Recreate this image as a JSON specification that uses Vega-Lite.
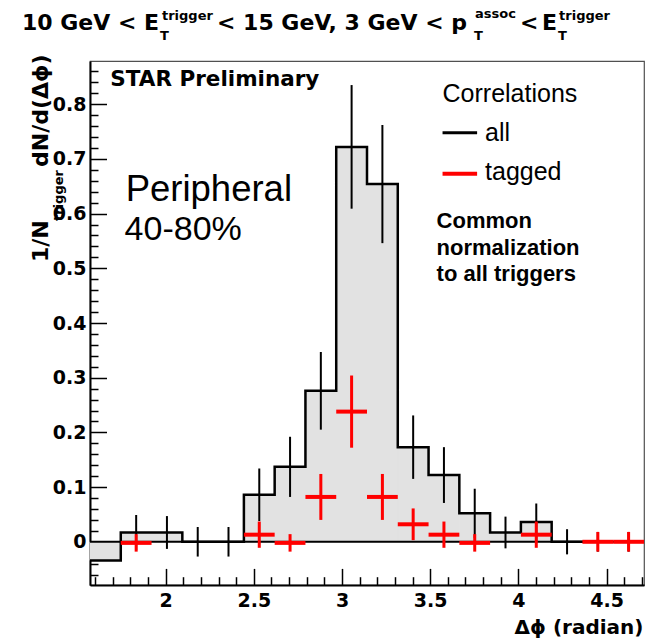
{
  "$schema": "https://vega.github.io/schema/vega-lite/v6.json",
  "width": 554,
  "height": 524,
  "autosize": {"type": "none"},
  "padding": {"left": 90, "top": 61, "right": 10, "bottom": 53},
  "background": "white",
  "config": {"view": {"stroke": "#505050", "strokeWidth": 1.2}, "axis": {"grid": false}},
  "datasets": {
    "bins": [
      {"lo": 1.5708, "hi": 1.7453, "c": 1.6581, "all": -0.034, "allErr": null, "tag": null, "tagErr": null},
      {"lo": 1.7453, "hi": 1.9199, "c": 1.8326, "all": 0.017, "allErr": 0.032, "tag": -0.002, "tagErr": 0.016},
      {"lo": 1.9199, "hi": 2.0944, "c": 2.0071, "all": 0.017, "allErr": 0.030, "tag": null, "tagErr": null},
      {"lo": 2.0944, "hi": 2.2689, "c": 2.1817, "all": 0.0, "allErr": 0.027, "tag": null, "tagErr": null},
      {"lo": 2.2689, "hi": 2.4435, "c": 2.3562, "all": 0.0, "allErr": 0.027, "tag": null, "tagErr": null},
      {"lo": 2.4435, "hi": 2.6180, "c": 2.5307, "all": 0.086, "allErr": 0.048, "tag": 0.013, "tagErr": 0.024},
      {"lo": 2.6180, "hi": 2.7925, "c": 2.7053, "all": 0.137, "allErr": 0.055, "tag": -0.002, "tagErr": 0.016},
      {"lo": 2.7925, "hi": 2.9671, "c": 2.8798, "all": 0.276, "allErr": 0.071, "tag": 0.082, "tagErr": 0.042},
      {"lo": 2.9671, "hi": 3.1416, "c": 3.0543, "all": 0.722, "allErr": 0.113, "tag": 0.238, "tagErr": 0.066},
      {"lo": 3.1416, "hi": 3.3161, "c": 3.2289, "all": 0.654, "allErr": 0.108, "tag": 0.082, "tagErr": 0.042},
      {"lo": 3.3161, "hi": 3.4907, "c": 3.4034, "all": 0.173, "allErr": 0.058, "tag": 0.032, "tagErr": 0.029},
      {"lo": 3.4907, "hi": 3.6652, "c": 3.5779, "all": 0.122, "allErr": 0.051, "tag": 0.013, "tagErr": 0.024},
      {"lo": 3.6652, "hi": 3.8397, "c": 3.7525, "all": 0.052, "allErr": 0.045, "tag": -0.002, "tagErr": 0.016},
      {"lo": 3.8397, "hi": 4.0143, "c": 3.9270, "all": 0.017, "allErr": 0.029, "tag": null, "tagErr": null},
      {"lo": 4.0143, "hi": 4.1888, "c": 4.1015, "all": 0.036, "allErr": 0.034, "tag": 0.013, "tagErr": 0.024},
      {"lo": 4.1888, "hi": 4.3633, "c": 4.2761, "all": 0.0, "allErr": 0.023, "tag": null, "tagErr": null},
      {"lo": 4.3633, "hi": 4.5379, "c": 4.4506, "all": 0.0, "allErr": 0.018, "tag": 0.0, "tagErr": 0.018},
      {"lo": 4.5379, "hi": 4.7124, "c": 4.6251, "all": 0.0, "allErr": 0.018, "tag": 0.0, "tagErr": 0.018}
    ]
  },
  "resolve": {"axis": {"x": "independent", "y": "independent"}},
  "layer": [
    {
      "data": {"name": "bins"},
      "mark": {"type": "rect", "fill": "#e2e2e2", "stroke": "#e2e2e2", "strokeWidth": 1},
      "encoding": {
        "x": {"field": "lo", "type": "quantitative",
          "scale": {"domain": [1.5708, 4.7124], "nice": false, "zero": false},
          "axis": {"orient": "bottom", "values": [2, 2.5, 3, 3.5, 4, 4.5], "format": "~g",
            "tickSize": -16.6, "tickWidth": 1.5, "tickColor": "black",
            "domain": true, "domainColor": "black", "domainWidth": 2,
            "labelFont": "DejaVu Sans", "labelFontWeight": "bold", "labelFontSize": 19, "labelColor": "black",
            "labelPadding": 23.4, "labelOverlap": false, "labelFlush": false,
            "title": "Δϕ (radian)", "titleFont": "DejaVu Sans", "titleFontWeight": "bold", "titleFontSize": 20,
            "titleColor": "black", "titleAnchor": "end", "titleAlign": "right", "titleBaseline": "alphabetic",
            "titleX": 553, "titleY": 48}},
        "x2": {"field": "hi"},
        "y": {"field": "all", "type": "quantitative",
          "scale": {"domain": [-0.079, 0.879], "nice": false, "zero": false},
          "axis": {"orient": "left", "values": [0, 0.1, 0.2, 0.3, 0.4, 0.5, 0.6, 0.7, 0.8], "format": "~g",
            "tickSize": -16.5, "tickWidth": 1.5, "tickColor": "black",
            "domain": true, "domainColor": "black", "domainWidth": 2,
            "labelFont": "DejaVu Sans", "labelFontWeight": "bold", "labelFontSize": 19, "labelColor": "black",
            "labelPadding": 20.5, "labelOverlap": false, "labelFlush": false, "title": null}},
        "y2": {"datum": 0}
      }
    },
    {
      "data": {"name": "bins"},
      "mark": {"type": "line", "interpolate": "step-after", "color": "black", "strokeWidth": 2.5},
      "encoding": {
        "x": {"field": "lo", "type": "quantitative",
          "axis": {"orient": "bottom", "values": [1.6, 1.7, 1.8, 1.9, 2.1, 2.2, 2.3, 2.4, 2.6, 2.7, 2.8, 2.9, 3.1, 3.2, 3.3, 3.4, 3.6, 3.7, 3.8, 3.9, 4.1, 4.2, 4.3, 4.4, 4.6, 4.7],
            "tickSize": -8.3, "tickWidth": 1.5, "tickColor": "black", "domain": false, "labels": false, "title": null}},
        "y": {"field": "all", "type": "quantitative",
          "axis": {"orient": "left", "values": [-0.06, -0.04, -0.02, 0.02, 0.04, 0.06, 0.08, 0.12, 0.14, 0.16, 0.18, 0.22, 0.24, 0.26, 0.28, 0.32, 0.34, 0.36, 0.38, 0.42, 0.44, 0.46, 0.48, 0.52, 0.54, 0.56, 0.58, 0.62, 0.64, 0.66, 0.68, 0.72, 0.74, 0.76, 0.78, 0.82, 0.84, 0.86],
            "tickSize": -8, "tickWidth": 1.5, "tickColor": "black", "domain": false, "labels": false, "title": null}}
      }
    },
    {
      "data": {"values": [{}]},
      "mark": {"type": "rule", "color": "black", "strokeWidth": 2},
      "encoding": {"y": {"datum": 0, "type": "quantitative", "axis": null}}
    },
    {
      "data": {"name": "bins"},
      "transform": [{"filter": "isValid(datum.allErr)"}],
      "mark": {"type": "errorbar", "color": "black", "thickness": 2},
      "encoding": {
        "x": {"field": "c", "type": "quantitative", "axis": null},
        "y": {"field": "all", "type": "quantitative", "axis": null},
        "yError": {"field": "allErr"}
      }
    },
    {
      "data": {"name": "bins"},
      "transform": [{"filter": "isValid(datum.tag)"}],
      "mark": {"type": "rule", "color": "#ff0000", "strokeWidth": 4},
      "encoding": {
        "x": {"field": "lo", "type": "quantitative", "axis": null},
        "x2": {"field": "hi"},
        "y": {"field": "tag", "type": "quantitative", "axis": null}
      }
    },
    {
      "data": {"name": "bins"},
      "transform": [{"filter": "isValid(datum.tag)"}],
      "mark": {"type": "errorbar", "color": "#ff0000", "thickness": 3},
      "encoding": {
        "x": {"field": "c", "type": "quantitative", "axis": null},
        "y": {"field": "tag", "type": "quantitative", "axis": null},
        "yError": {"field": "tagErr"}
      }
    },
    {
      "data": {"values": [{}]},
      "mark": {"type": "rule", "color": "black", "strokeWidth": 3},
      "encoding": {"x": {"datum": 3.570, "type": "quantitative", "axis": null}, "x2": {"datum": 3.766}, "y": {"datum": 0.748, "type": "quantitative", "axis": null}}
    },
    {
      "data": {"values": [{}]},
      "mark": {"type": "rule", "color": "#ff0000", "strokeWidth": 4},
      "encoding": {"x": {"datum": 3.570, "type": "quantitative", "axis": null}, "x2": {"datum": 3.766}, "y": {"datum": 0.673, "type": "quantitative", "axis": null}}
    },
    {
      "data": {"values": [{}]},
      "mark": {"type": "text", "text": "10 GeV < E", "font": "DejaVu Sans", "fontWeight": "bold", "fontSize": 22, "align": "left", "baseline": "alphabetic", "color": "black"},
      "encoding": {"x": {"datum": 1.185, "type": "quantitative", "axis": null}, "y": {"datum": 0.9357, "type": "quantitative", "axis": null}}
    },
    {
      "data": {"values": [{}]},
      "mark": {"type": "text", "text": "trigger", "font": "DejaVu Sans", "fontWeight": "bold", "fontSize": 13, "align": "left", "baseline": "alphabetic", "color": "black"},
      "encoding": {"x": {"datum": 1.979, "type": "quantitative", "axis": null}, "y": {"datum": 0.954, "type": "quantitative", "axis": null}}
    },
    {
      "data": {"values": [{}]},
      "mark": {"type": "text", "text": "T", "font": "DejaVu Sans", "fontWeight": "bold", "fontSize": 13, "align": "left", "baseline": "alphabetic", "color": "black"},
      "encoding": {"x": {"datum": 1.968, "type": "quantitative", "axis": null}, "y": {"datum": 0.9174, "type": "quantitative", "axis": null}}
    },
    {
      "data": {"values": [{}]},
      "mark": {"type": "text", "text": "< 15 GeV, 3 GeV < p", "font": "DejaVu Sans", "fontWeight": "bold", "fontSize": 22, "align": "left", "baseline": "alphabetic", "color": "black"},
      "encoding": {"x": {"datum": 2.291, "type": "quantitative", "axis": null}, "y": {"datum": 0.9357, "type": "quantitative", "axis": null}}
    },
    {
      "data": {"values": [{}]},
      "mark": {"type": "text", "text": "assoc", "font": "DejaVu Sans", "fontWeight": "bold", "fontSize": 13, "align": "left", "baseline": "alphabetic", "color": "black"},
      "encoding": {"x": {"datum": 3.754, "type": "quantitative", "axis": null}, "y": {"datum": 0.9576, "type": "quantitative", "axis": null}}
    },
    {
      "data": {"values": [{}]},
      "mark": {"type": "text", "text": "T", "font": "DejaVu Sans", "fontWeight": "bold", "fontSize": 13, "align": "left", "baseline": "alphabetic", "color": "black"},
      "encoding": {"x": {"datum": 3.748, "type": "quantitative", "axis": null}, "y": {"datum": 0.9174, "type": "quantitative", "axis": null}}
    },
    {
      "data": {"values": [{}]},
      "mark": {"type": "text", "text": "<", "font": "DejaVu Sans", "fontWeight": "bold", "fontSize": 22, "align": "left", "baseline": "alphabetic", "color": "black"},
      "encoding": {"x": {"datum": 4.009, "type": "quantitative", "axis": null}, "y": {"datum": 0.9357, "type": "quantitative", "axis": null}}
    },
    {
      "data": {"values": [{}]},
      "mark": {"type": "text", "text": "E", "font": "DejaVu Sans", "fontWeight": "bold", "fontSize": 22, "align": "left", "baseline": "alphabetic", "color": "black"},
      "encoding": {"x": {"datum": 4.134, "type": "quantitative", "axis": null}, "y": {"datum": 0.9357, "type": "quantitative", "axis": null}}
    },
    {
      "data": {"values": [{}]},
      "mark": {"type": "text", "text": "trigger", "font": "DejaVu Sans", "fontWeight": "bold", "fontSize": 13, "align": "left", "baseline": "alphabetic", "color": "black"},
      "encoding": {"x": {"datum": 4.231, "type": "quantitative", "axis": null}, "y": {"datum": 0.954, "type": "quantitative", "axis": null}}
    },
    {
      "data": {"values": [{}]},
      "mark": {"type": "text", "text": "T", "font": "DejaVu Sans", "fontWeight": "bold", "fontSize": 13, "align": "left", "baseline": "alphabetic", "color": "black"},
      "encoding": {"x": {"datum": 4.225, "type": "quantitative", "axis": null}, "y": {"datum": 0.9174, "type": "quantitative", "axis": null}}
    },
    {
      "data": {"values": [{}]},
      "mark": {"type": "text", "text": "1/N", "angle": 270, "font": "DejaVu Sans", "fontWeight": "bold", "fontSize": 22, "align": "left", "baseline": "alphabetic", "color": "black"},
      "encoding": {"x": {"datum": 1.3326, "type": "quantitative", "axis": null}, "y": {"datum": 0.5115, "type": "quantitative", "axis": null}}
    },
    {
      "data": {"values": [{}]},
      "mark": {"type": "text", "text": "trigger", "angle": 270, "font": "DejaVu Sans", "fontWeight": "bold", "fontSize": 13, "align": "left", "baseline": "alphabetic", "color": "black"},
      "encoding": {"x": {"datum": 1.4177, "type": "quantitative", "axis": null}, "y": {"datum": 0.5865, "type": "quantitative", "axis": null}}
    },
    {
      "data": {"values": [{}]},
      "mark": {"type": "text", "text": "dN/d(Δϕ)", "angle": 270, "font": "DejaVu Sans", "fontWeight": "bold", "fontSize": 22, "align": "left", "baseline": "alphabetic", "color": "black"},
      "encoding": {"x": {"datum": 1.3326, "type": "quantitative", "axis": null}, "y": {"datum": 0.6852, "type": "quantitative", "axis": null}}
    },
    {
      "data": {"values": [{}]},
      "mark": {"type": "text", "text": "STAR Preliminary", "font": "DejaVu Sans", "fontWeight": "bold", "fontSize": 21.5, "align": "left", "baseline": "alphabetic", "color": "black"},
      "encoding": {"x": {"datum": 1.686, "type": "quantitative", "axis": null}, "y": {"datum": 0.834, "type": "quantitative", "axis": null}}
    },
    {
      "data": {"values": [{}]},
      "mark": {"type": "text", "text": "Peripheral", "font": "Liberation Sans", "fontSize": 36.5, "align": "left", "baseline": "alphabetic", "color": "black"},
      "encoding": {"x": {"datum": 1.773, "type": "quantitative", "axis": null}, "y": {"datum": 0.623, "type": "quantitative", "axis": null}}
    },
    {
      "data": {"values": [{}]},
      "mark": {"type": "text", "text": "40-80%", "font": "Liberation Sans", "fontSize": 34, "align": "left", "baseline": "alphabetic", "color": "black"},
      "encoding": {"x": {"datum": 1.767, "type": "quantitative", "axis": null}, "y": {"datum": 0.552, "type": "quantitative", "axis": null}}
    },
    {
      "data": {"values": [{}]},
      "mark": {"type": "text", "text": "Correlations", "font": "Liberation Sans", "fontSize": 25, "align": "left", "baseline": "alphabetic", "color": "black"},
      "encoding": {"x": {"datum": 3.570, "type": "quantitative", "axis": null}, "y": {"datum": 0.804, "type": "quantitative", "axis": null}}
    },
    {
      "data": {"values": [{}]},
      "mark": {"type": "text", "text": "all", "font": "Liberation Sans", "fontSize": 25, "align": "left", "baseline": "alphabetic", "color": "black"},
      "encoding": {"x": {"datum": 3.811, "type": "quantitative", "axis": null}, "y": {"datum": 0.732, "type": "quantitative", "axis": null}}
    },
    {
      "data": {"values": [{}]},
      "mark": {"type": "text", "text": "tagged", "font": "Liberation Sans", "fontSize": 25, "align": "left", "baseline": "alphabetic", "color": "black"},
      "encoding": {"x": {"datum": 3.811, "type": "quantitative", "axis": null}, "y": {"datum": 0.662, "type": "quantitative", "axis": null}}
    },
    {
      "data": {"values": [{}]},
      "mark": {"type": "text", "text": ["Common", "normalization", "to all triggers"], "lineHeight": 26.7, "font": "Liberation Sans", "fontWeight": "bold", "fontSize": 22, "align": "left", "baseline": "alphabetic", "color": "black"},
      "encoding": {"x": {"datum": 3.536, "type": "quantitative", "axis": null}, "y": {"datum": 0.574, "type": "quantitative", "axis": null}}
    }
  ]
}
